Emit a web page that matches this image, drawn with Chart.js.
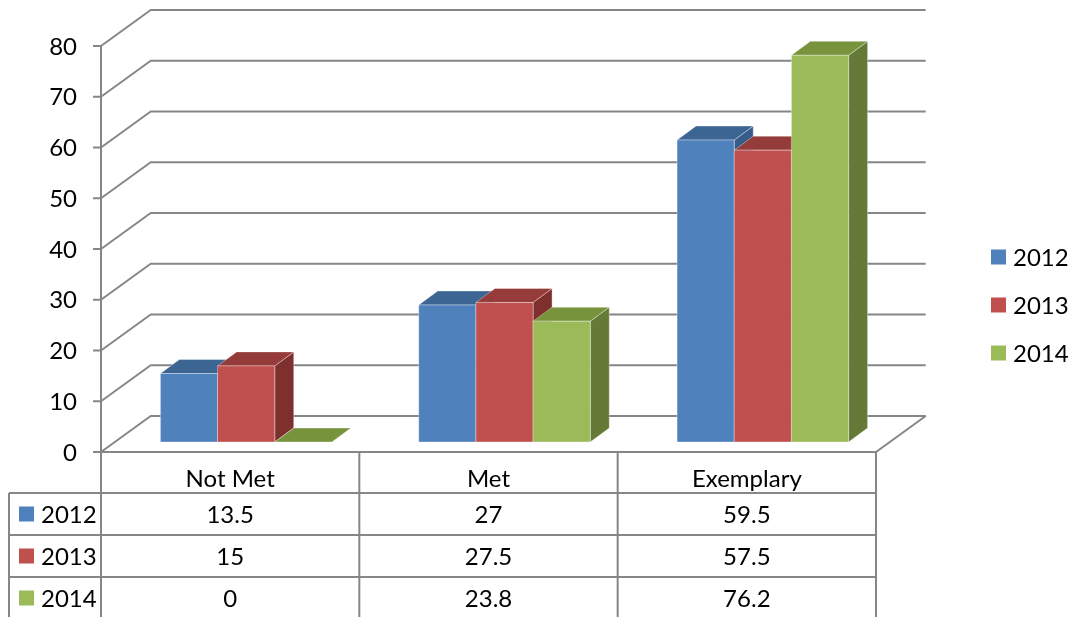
<!DOCTYPE html>
<html>
<head>
<meta charset="utf-8">
<script src="https://cdn.jsdelivr.net/npm/chart.js@4/dist/chart.umd.min.js"></script>
<style>
  html, body { margin: 0; padding: 0; background: #ffffff; }
  #wrap { width: 1074px; height: 617px; }
</style>
</head>
<body>
<div id="wrap"><canvas id="c" width="1074" height="617"></canvas></div>
<script>
// ---- data ----
const categories = ['Not Met', 'Met', 'Exemplary'];
const seriesNames = ['2012', '2013', '2014'];
const values2012 = [13.5, 27, 59.5];
const values2013 = [15, 27.5, 57.5];
const values2014 = [0, 23.8, 76.2];
const yTicks = [0, 10, 20, 30, 40, 50, 60, 70, 80];

// ---- styles ----
const frontColors = ['#4F81BD', '#C0504D', '#9BBB59'];
const topColors   = ['#3C6594', '#953B39', '#77933C'];
const sideColors  = ['#385C89', '#7D302E', '#657A36'];
const FONT = '24px Lato, "Open Sans", sans-serif';
const GRID = '#868686';

// projection of the 3D box
const WALL_DX = 49.7, WALL_DY = -36;   // depth of the floor / walls
const BAR_FX = 16, BAR_FY = -10;       // bar front face offset into the depth
const BAR_DX = 19, BAR_DY = -14;       // bar depth

function poly(ctx, pts, fill) {
  ctx.beginPath();
  ctx.moveTo(pts[0][0], pts[0][1]);
  for (let i = 1; i < pts.length; i++) ctx.lineTo(pts[i][0], pts[i][1]);
  ctx.closePath();
  ctx.fillStyle = fill;
  ctx.fill();
  ctx.strokeStyle = 'rgba(255,255,255,0.35)';
  ctx.lineWidth = 1;
  ctx.stroke();
}

function line(ctx, x0, y0, x1, y1) {
  ctx.beginPath();
  ctx.moveTo(x0, y0);
  ctx.lineTo(x1, y1);
  ctx.stroke();
}

const wallPlugin = {
  id: 'wall3d',
  beforeDatasetsDraw(chart) {
    const ctx = chart.ctx;
    const ys = chart.scales.y;
    const a = chart.chartArea;
    ctx.save();
    ctx.strokeStyle = GRID;
    ctx.lineWidth = 2;
    ctx.lineJoin = 'round';
    // grid lines on side wall and back wall
    yTicks.forEach(v => {
      const y = ys.getPixelForValue(v);
      ctx.beginPath();
      ctx.moveTo(a.left - 8, y);
      ctx.lineTo(a.left, y);
      ctx.lineTo(a.left + WALL_DX, y + WALL_DY);
      ctx.lineTo(a.right + WALL_DX, y + WALL_DY);
      ctx.stroke();
    });
    // floor right edge
    const y0 = ys.getPixelForValue(0);
    line(ctx, a.right, y0, a.right + WALL_DX, y0 + WALL_DY);
    // value axis
    line(ctx, a.left, ys.getPixelForValue(yTicks[yTicks.length - 1]), a.left, y0);
    // tick labels
    ctx.fillStyle = '#000';
    ctx.font = FONT;
    ctx.textAlign = 'right';
    ctx.textBaseline = 'middle';
    yTicks.forEach(v => ctx.fillText(String(v), 77, ys.getPixelForValue(v) + 1));
    ctx.restore();
  }
};

const barPlugin = {
  id: 'bars3d',
  afterDatasetsDraw(chart) {
    const ctx = chart.ctx;
    ctx.save();
    for (let i = 0; i < categories.length; i++) {
      for (let d = 0; d < chart.data.datasets.length; d++) {
        const bar = chart.getDatasetMeta(d).data[i];
        const x0 = bar.x - bar.width / 2 + BAR_FX;
        const x1 = bar.x + bar.width / 2 + BAR_FX;
        const yt = bar.y + BAR_FY;
        const yb = bar.base + BAR_FY;
        if (yb - yt > 0.5) {
          poly(ctx, [[x1, yt], [x1 + BAR_DX, yt + BAR_DY], [x1 + BAR_DX, yb + BAR_DY], [x1, yb]], sideColors[d]);
        }
        poly(ctx, [[x0, yt], [x0 + BAR_DX, yt + BAR_DY], [x1 + BAR_DX, yt + BAR_DY], [x1, yt]], topColors[d]);
        if (yb - yt > 0.5) {
          poly(ctx, [[x0, yt], [x1, yt], [x1, yb], [x0, yb]], frontColors[d]);
        }
      }
    }
    ctx.restore();
  }
};

const tablePlugin = {
  id: 'dataTable',
  afterDraw(chart) {
    const ctx = chart.ctx;
    const xs = chart.scales.x;
    const a = chart.chartArea;
    const top = chart.scales.y.getPixelForValue(0);
    const headH = 41, rowH = 42;
    const leftEdge = 9;
    const colW = (a.right - a.left) / categories.length;
    const rows = [values2012, values2013, values2014];
    ctx.save();
    ctx.strokeStyle = GRID;
    ctx.lineWidth = 2;
    // horizontal rules
    line(ctx, a.left, top, a.right, top);
    for (let r = 0; r <= rows.length; r++) {
      const y = top + headH + r * rowH;
      line(ctx, leftEdge, y, a.right, y);
    }
    // vertical rules
    line(ctx, leftEdge, top + headH, leftEdge, 640);
    for (let c = 0; c <= categories.length; c++) {
      const x = a.left + c * colW;
      line(ctx, x, top, x, 640);
    }
    ctx.fillStyle = '#000';
    ctx.font = FONT;
    ctx.textBaseline = 'middle';
    ctx.textAlign = 'center';
    categories.forEach((c, i) => ctx.fillText(c, xs.getPixelForValue(i), top + 27));
    rows.forEach((vals, r) => {
      const yc = top + headH + r * rowH + rowH / 2 + 1;
      vals.forEach((v, i) => ctx.fillText(String(v), xs.getPixelForValue(i), yc));
    });
    // series keys in the table
    rows.forEach((vals, r) => {
      const yc = top + headH + r * rowH + rowH / 2;
      ctx.fillStyle = frontColors[r];
      ctx.fillRect(19, yc - 7.5, 15, 15);
      ctx.fillStyle = '#000';
      ctx.textAlign = 'left';
      ctx.fillText(seriesNames[r], 41, yc + 1);
    });
    // legend on the right
    seriesNames.forEach((s, r) => {
      const yc = 257 + r * 48;
      ctx.fillStyle = frontColors[r];
      ctx.fillRect(991, yc - 7.5, 15, 15);
      ctx.fillStyle = '#000';
      ctx.textAlign = 'left';
      ctx.fillText(s, 1013, yc + 1);
    });
    ctx.restore();
  }
};

const seriesValues = [values2012, values2013, values2014];

new Chart(document.getElementById('c'), {
  type: 'bar',
  data: {
    labels: categories,
    datasets: seriesNames.map((name, i) => ({
      label: name,
      data: seriesValues[i],
      backgroundColor: 'rgba(0,0,0,0)',
      borderWidth: 0,
      categoryPercentage: 0.664,
      barPercentage: 1.0
    }))
  },
  options: {
    responsive: false,
    animation: false,
    devicePixelRatio: 1,
    layout: { padding: { left: 101, right: 198, top: 46, bottom: 165 } },
    scales: {
      x: { display: false },
      y: { display: false, min: 0, max: 80 }
    },
    plugins: { legend: { display: false }, tooltip: { enabled: false } }
  },
  plugins: [wallPlugin, barPlugin, tablePlugin]
});
</script>
</body>
</html>
